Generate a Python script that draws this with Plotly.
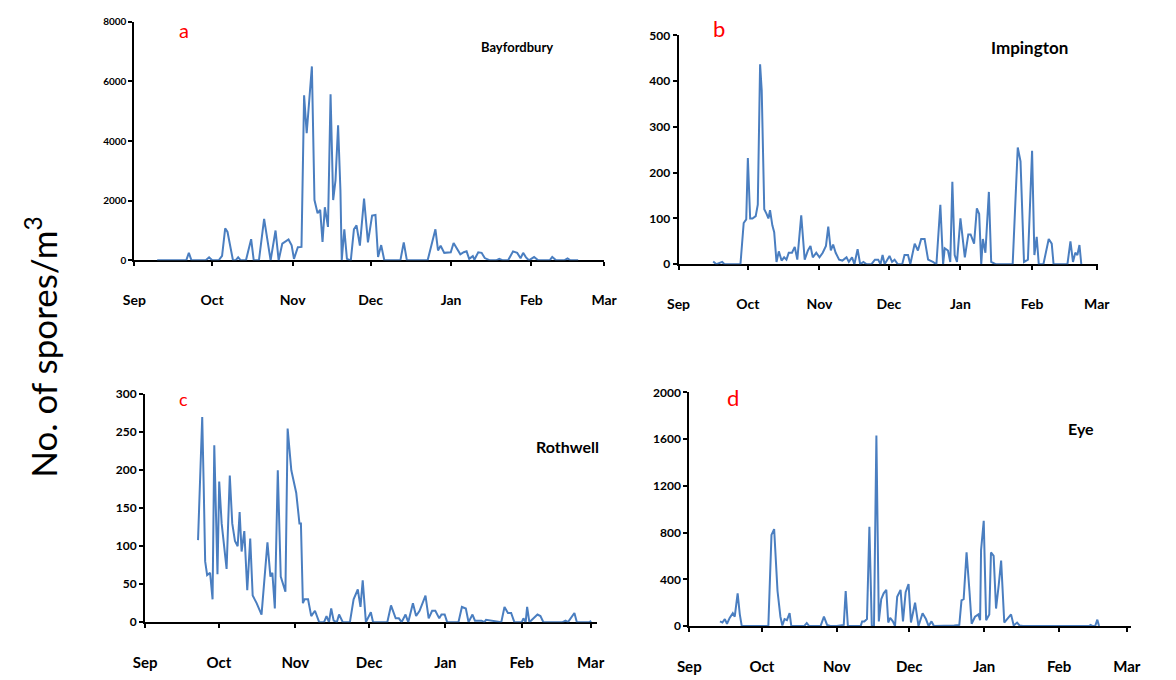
import plotly.graph_objects as go

W, H = 1176, 680

# ---- data: x = days since 1 Sep, y = spores per m3 ----
month_days = [0, 30, 61, 91, 122, 153, 181]
month_labels = ["Sep", "Oct", "Nov", "Dec", "Jan", "Feb", "Mar"]

bay_day = [8.8, 20, 21, 22, 27.5, 28.8, 30, 32.5, 33.8, 35, 35.9, 37, 38, 39, 40, 41, 43, 45, 46, 48,
           50, 52.5, 54.4, 55.6, 57, 59.4, 60.6, 61.5, 63, 64.4, 65.4, 66.4, 67.4, 68.4, 69.4, 70.6,
           71.6, 72.5, 73.4, 74.6, 75.6, 76.6, 77.5, 78.5, 79.4, 79.9, 80.9, 81.9, 83.4, 84.6, 85.6,
           86.9, 88.5, 90, 91.6, 92.9, 93.9, 95.1, 96.3, 102.5, 103.8, 105, 113, 116, 117, 118, 119.4,
           121.9, 123, 125.6, 126.9, 128, 129, 130.4, 131, 132.5, 133.8, 135, 137, 139.4, 140.6, 142,
           144, 145.9, 147.5, 148.8, 149.8, 150.9, 152, 154, 155.6, 160, 161, 162.5, 165.6, 166.9,
           168, 171]
bay_val = [0, 0, 250, 0, 0, 100, 0, 0, 150, 1070, 950, 400, 0, 0, 100, 0, 0, 710, 0, 0,
           1390, 0, 1000, 0, 560, 700, 500, 50, 440, 450, 5530, 4260, 5300, 6500, 2020, 1580,
           1690, 620, 1780, 1120, 5570, 2020, 2680, 4530, 2350, 0, 1040, 50, 0, 1040, 1170,
           490, 2070, 600, 1500, 1520, 110, 510, 0, 0, 600, 0, 0, 1040, 330, 490, 250,
           270, 580, 200, 270, 300, 50, 140, 20, 270, 250, 75, 0, 0, 50, 0,
           0, 300, 250, 70, 250, 100, 0, 110, 0, 0, 110, 0, 0, 60,
           0, 0]

imp_day = [15, 16.4, 18.9, 19.9, 24, 26.8, 28.2, 29.3, 30, 31, 32, 33.4, 34.3, 35.3, 36, 37.1, 38.1,
           38.9, 39.6, 40.6, 41.4, 42.4, 43.4, 44.6, 45.7, 46.7, 47.7, 49.1, 50.3, 51.4, 53.1, 54.6,
           56, 57.1, 58.1, 59.6, 61, 62.4, 63.8, 64.8, 65.9, 66.9, 68, 69.5, 70.9, 72.7, 73.7, 75.1,
           76.1, 77.5, 78.6, 80, 81.4, 83.5, 85, 86.4, 87.4, 88.3, 89.2, 91.3, 92.4, 93.5, 94.9,
           96.8, 97.8, 99.3, 100.3, 102.2, 103.6, 105, 106.5, 108, 110.1, 111.6, 113.3, 114.5,
           115.2, 116.6, 117.6, 118.5, 119.5, 120.5, 122, 123.9, 125.4, 126.4, 127.9, 129.1, 130.1,
           131, 131.7, 132.8, 134.3, 135.3, 137.2, 144.6, 146.8, 148, 149.5, 151.2, 153, 154, 155,
           155.9, 157.9, 160.2, 161.5, 162.3, 168.3, 169.6, 170.7, 171.7, 172.6, 173.5, 174.3]
imp_val = [6, 0, 5, 0, 0, 0, 90, 98, 232, 100, 100, 105, 130, 437, 380, 120, 110,
           100, 118, 85, 70, 5, 28, 8, 15, 10, 25, 25, 38, 10, 107, 10,
           30, 40, 15, 25, 15, 25, 40, 82, 30, 43, 25, 10, 8, 15, 5, 15,
           0, 33, 0, 5, 0, 0, 10, 10, 0, 20, 0, 18, 5, 10, 0,
           0, 20, 20, 0, 45, 30, 55, 55, 10, 5, 0, 130, 0,
           35, 30, 5, 180, 20, 5, 100, 15, 65, 65, 45, 122, 110,
           0, 55, 25, 158, 5, 0, 0, 255, 225, 5, 10, 248, 20, 60,
           0, 0, 55, 45, 0, 0, 50, 5, 25, 20, 42, 0]

rot_day = [21.5, 23.2, 23.8, 24.4, 25.2, 26.4, 27.4, 28.1, 29.4, 30.1, 31.1, 32.2, 33.1, 34.4, 35.4,
           36.5, 37.6, 38.4, 39.2, 40.3, 41.5, 42.7, 43.7, 45.3, 47.3, 49.7, 50.9, 51.7, 52.7, 53.9,
           55.1, 57, 57.9, 59.4, 61.4, 62.7, 63.3, 64.1, 64.8, 66.2, 67.5, 69, 70.7, 72.7, 73.7,
           74.7, 75.6, 76.6, 77.9, 78.8, 80.3, 83.2, 84.7, 86.4, 87.5, 88.4, 89.7, 91.7, 92.6,
           98.4, 99.9, 101.8, 103.1, 104.2, 105.8, 106.9, 108.8, 110.1, 111.5, 113.9, 115.2,
           116.6, 117.9, 119.5, 120.4, 121.7, 122.7, 127.3, 128.7, 130.3, 131.4, 133, 134, 136.7,
           137.8, 138.5, 144.7, 146, 147.4, 148.7, 150, 153, 153.7, 154.6, 155.2, 156.1, 159.4,
           160.6, 161.8, 169.6, 170.8, 171.8, 173.5, 174.4, 175.4, 180.5, 181.2]
rot_val = [108, 270, 180, 80, 62, 65, 30, 233, 63, 185, 130, 100, 70, 193, 130,
           107, 100, 145, 93, 120, 42, 110, 35, 25, 10, 105, 60, 65, 18, 200,
           60, 40, 255, 200, 170, 130, 130, 25, 30, 30, 8, 15, 0, 0, 8,
           0, 18, 2, 0, 10, 0, 0, 30, 43, 20, 55, 0, 13, 0,
           0, 22, 5, 5, 0, 10, 0, 25, 8, 15, 35, 5,
           15, 15, 5, 10, 10, 0, 0, 20, 18, 0, 10, 2, 2,
           0, 3, 0, 20, 12, 12, 0, 0, 5, 0, 20, 0, 10,
           8, 0, 0, 2, 0, 8, 12, 0, 0, 2]

eye_day = [12.7, 13.7, 14.7, 15.6, 16.7, 18, 18.8, 20, 20.9, 21.7, 24.7, 32.7, 34, 35.1, 36.5, 37.7,
           38.5, 39.4, 40.4, 41.5, 42.2, 47.5, 48.6, 49.6, 54.3, 55.7, 57, 58.3, 61, 63, 63.9, 64.7,
           65.6, 70.9, 71.5, 72.4, 73.5, 74.5, 75.5, 76.4, 77.4, 78.4, 79.4, 80.4, 81.5, 82.3, 83.1,
           84.2, 85.1, 86, 87.4, 88.4, 89.5, 90.7, 91.7, 93.4, 94.8, 96.5, 97.9, 99, 100.2, 101.2,
           106.8, 109.6, 111.7, 112.6, 113.5, 114.7, 115.9, 116.8, 118.2, 119.6, 120.3, 120.7, 121.8,
           122.8, 124.1, 124.8, 125.9, 126.9, 128, 129, 130.3, 131.7, 133.1, 134.2, 135.6, 136.6,
           138, 165.4, 166, 166.9, 167.9, 168.8, 169.5]
eye_val = [40, 30, 60, 20, 70, 110, 80, 280, 100, 0, 0, 0, 780, 830, 300, 80,
           5, 60, 50, 110, 0, 0, 25, 0, 0, 80, 10, 0, 0, 10, 10, 300,
           0, 0, 40, 40, 60, 850, 0, 0, 1630, 40, 230, 280, 310, 30, 70,
           40, 0, 250, 310, 40, 290, 360, 30, 200, 0, 110, 60, 0, 40, 0,
           0, 5, 10, 220, 230, 630, 300, 20, 80, 100, 50, 650, 900,
           50, 100, 630, 600, 150, 350, 560, 30, 70, 100, 5, 30, 5,
           0, 0, 10, 0, 0, 55, 0]

panels = [
    dict(x=bay_day, y=bay_val, ymax=8000, dtick=2000, xpx=(125, 605), ypx=(258, 14), yfs=10, xfs=14),
    dict(x=imp_day, y=imp_val, ymax=500, dtick=100, xpx=(681, 1110), ypx=(262, 28), yfs=12, xfs=14),
    dict(x=rot_day, y=rot_val, ymax=300, dtick=50, xpx=(136, 598), ypx=(628, 395), yfs=12, xfs=15),
    dict(x=eye_day, y=eye_val, ymax=2000, dtick=400, xpx=(692, 1143), ypx=(632, 393), yfs=12, xfs=15),
]
xranges = [(0, 181), (0, 181.7), (0, 183.7), (0, 182.6)]

LINE = "#4A7EC0"
FONT = "Lato"

fig = go.Figure()
layout = dict(width=W, height=H, margin=dict(l=0, r=0, t=0, b=0),
              paper_bgcolor="white", plot_bgcolor="white", showlegend=False,
              font=dict(family=FONT, color="black"))

for i, p in enumerate(panels, start=1):
    xa = "x" if i == 1 else f"x{i}"
    ya = "y" if i == 1 else f"y{i}"
    fig.add_trace(go.Scatter(x=p["x"], y=p["y"], mode="lines",
                             line=dict(color=LINE, width=2),
                             xaxis=xa, yaxis=ya, hoverinfo="skip"))
    x0, x1 = p["xpx"]
    yb, yt = p["ypx"]
    r0, r1 = xranges[i - 1]
    layout[f"xaxis{'' if i == 1 else i}"] = dict(
        domain=[x0 / W, x1 / W], anchor=ya, range=[r0, r1],
        tickvals=month_days, ticktext=month_labels,
        showline=True, linecolor="black", linewidth=2, layer="below traces",
        ticks="outside", ticklen=4, tickwidth=2, tickcolor="black",
        ticklabelstandoff=22,
        tickfont=dict(family=FONT, size=p["xfs"], color="black", weight="bold"),
        showgrid=False, zeroline=False, fixedrange=True)
    layout[f"yaxis{'' if i == 1 else i}"] = dict(
        domain=[1 - yb / H, 1 - yt / H], anchor=xa, range=[0, p["ymax"]],
        tick0=0, dtick=p["dtick"],
        showline=True, linecolor="black", linewidth=2, layer="below traces",
        ticks="outside", ticklen=4, tickwidth=2, tickcolor="black",
        tickfont=dict(family=FONT, size=p["yfs"], color="black", weight="bold"),
        showgrid=False, zeroline=False, fixedrange=True)

ann = []
def add_text(txt, px, py, size, color="black", bold=False, angle=0):
    ann.append(dict(text=f"<b>{txt}</b>" if bold else txt, x=px / W, y=1 - py / H,
                    xref="paper", yref="paper", showarrow=False, textangle=angle,
                    xanchor="center", yanchor="middle",
                    font=dict(family=FONT, size=size, color=color)))

add_text("a", 176, 22, 20, "red")
add_text("b", 722, 21, 22, "red")
add_text("c", 175, 400, 18, "red")
add_text("d", 737, 398, 22, "red")
add_text("Bayfordbury", 516, 40, 13, bold=True)
add_text("Impington", 1040, 40, 17, bold=True)
add_text("Rothwell", 568, 448, 16, bold=True)
add_text("Eye", 1092, 430, 16, bold=True)
add_text("No. of spores/m<sup>3</sup>", 30, 347, 35, angle=-90)

layout["annotations"] = ann
fig.update_layout(**layout)
fig.write_html("out.html", config={"displayModeBar": False},
               post_script="document.body.style.margin='0';document.body.style.overflow='hidden';")
